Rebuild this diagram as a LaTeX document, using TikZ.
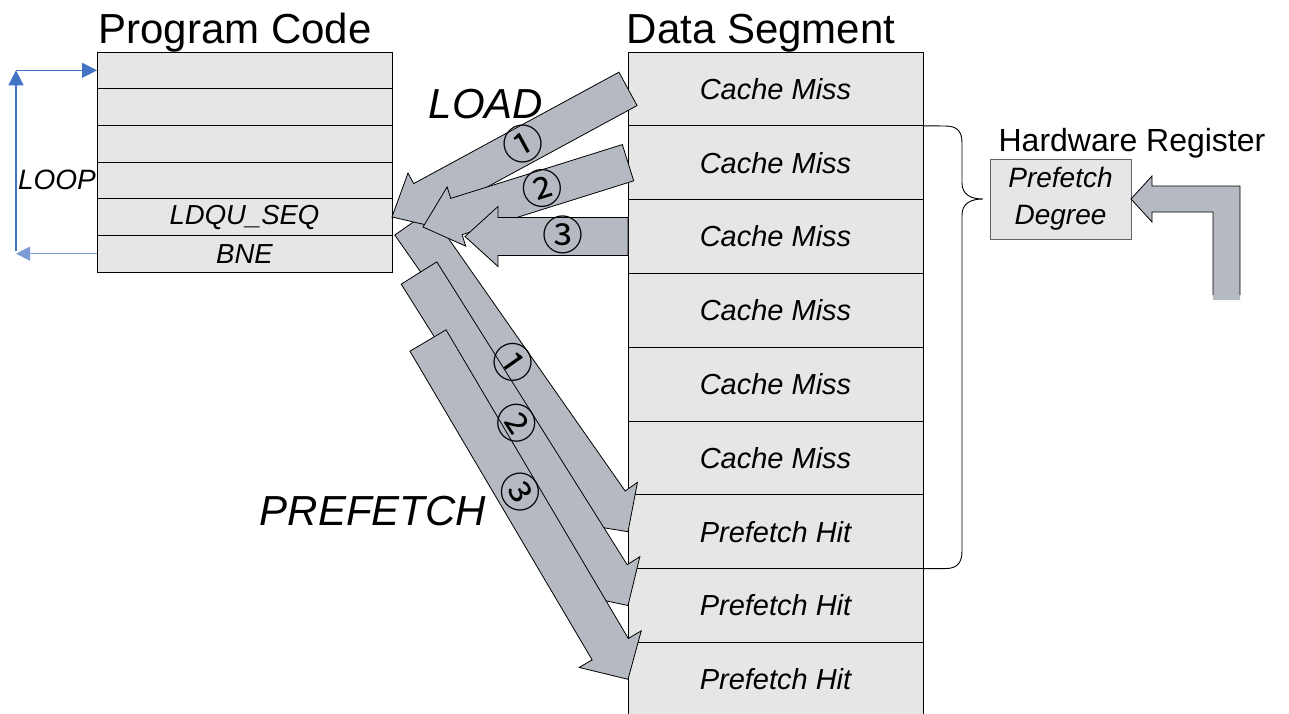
\documentclass[tikz,border=0pt]{standalone}
\usepackage{fontspec}
\setmainfont{Liberation Sans}
\newfontfamily\circfont{Noto Sans CJK JP}
\usetikzlibrary{calc,arrows.meta}

\definecolor{cellgray}{RGB}{230,230,230}
\definecolor{arrowgray}{RGB}{181,185,194}
\definecolor{loopblue}{RGB}{68,114,196}
\definecolor{looplight}{RGB}{125,155,212}
\definecolor{regborder}{RGB}{100,100,100}

% block arrow: tail, tip, half shaft width, half head width, head length
\newcommand\blockarrow[5]{%
  \coordinate (ba) at ($(#2)!#5!(#1)$);
  \path[blockarrow]
    ($(#1)!#3!90:(#2)$) -- ($(ba)!#3!-90:(#1)$) -- ($(ba)!#4!-90:(#1)$)
    -- (#2) -- ($(ba)!#4!90:(#1)$) -- ($(ba)!#3!90:(#1)$)
    -- ($(#1)!#3!-90:(#2)$) -- cycle;
}

\tikzset{
  title/.style={font=\fontsize{42}{50}\selectfont, inner sep=0pt},
  subtitle/.style={font=\fontsize{32}{38}\selectfont, inner sep=0pt},
  bigword/.style={font=\fontsize{42}{50}\selectfont\itshape, inner sep=0pt},
  prow/.style={draw=black, line width=0.9pt, fill=cellgray, minimum width=295pt,
    minimum height=36.67pt, inner sep=0pt, outer sep=0pt,
    font=\fontsize{27.5}{32}\selectfont\itshape},
  drow/.style={draw=black, line width=0.9pt, fill=cellgray, minimum width=295pt,
    minimum height=73.8pt, inner sep=0pt, outer sep=0pt,
    font=\fontsize{29}{34}\selectfont\itshape},
  regbox/.style={draw=regborder, line width=0.9pt, fill=cellgray, minimum width=141pt,
    minimum height=80pt, inner sep=0pt, outer sep=0pt, align=center,
    font=\fontsize{28}{37}\selectfont\itshape},
  blockarrow/.style={fill=arrowgray, draw=black, line width=0.8pt, line join=miter},
  circnum/.style={font=\fontsize{41}{41}\selectfont\circfont, inner sep=0pt},
  loopline/.style={draw=loopblue, line width=1.4pt, -{Triangle[length=15pt,width=15pt]}},
  looplow/.style={draw=looplight, line width=1.1pt, -{Triangle[length=14pt,width=14pt]}},
  loopword/.style={font=\fontsize{28}{32}\selectfont\itshape, inner sep=0pt},
}

\begin{document}
\begin{tikzpicture}[x=1pt, y=-1pt]
\clip (0,0) rectangle (1289,714);
\fill[white] (0,0) rectangle (1289,714);

% headings
\node[title, anchor=base] (pct) at (235,44) {Program Code};
\node[title, anchor=base] (dst) at (761,44) {Data Segment};
\node[subtitle, anchor=base] (hwt) at (1132,152) {Hardware Register};

% program code column
\node[prow] (p1) at (244.5,70.33) {};
\node[prow] (p2) at (244.5,107.0) {};
\node[prow] (p3) at (244.5,143.67) {};
\node[prow] (p4) at (244.5,180.33) {};
\node[prow] (p5) at (244.5,217.0) {LDQU\_SEQ};
\node[prow] (p6) at (244.5,253.67) {BNE};

% data segment column
\node[drow] (d1) at (775.5,88.9) {Cache Miss};
\node[drow] (d2) at (775.5,162.7) {Cache Miss};
\node[drow] (d3) at (775.5,236.5) {Cache Miss};
\node[drow] (d4) at (775.5,310.3) {Cache Miss};
\node[drow] (d5) at (775.5,384.1) {Cache Miss};
\node[drow] (d6) at (775.5,457.9) {Cache Miss};
\node[drow] (d7) at (775.5,531.7) {Prefetch Hit};
\node[drow] (d8) at (775.5,605.5) {Prefetch Hit};
\node[drow] (d9) at (775.5,679.3) {Prefetch Hit};

% hardware register
\node[regbox] (reg) at (1060.5,199) {Prefetch\\Degree};

% brace grouping the prefetched rows
\draw[line width=0.9pt] (d2.north east) -- (945,126)
  .. controls (957,126) and (962,131) .. (962,143) -- (962,183)
  .. controls (962,194) and (970,199) .. (983,199)
  .. controls (970,199) and (962,204) .. (962,215) -- (962,551)
  .. controls (962,563) and (957,568.6) .. (945,568.6) -- (d8.north east);

% loop connectors
\coordinate (lbot) at (16,253.67);
\coordinate (lup) at (16,251);
\coordinate (ltop) at (16,70.33);
\draw[looplow] (p6.west) -- (lbot);
\draw[loopline] (lup) -- (ltop);
\draw[loopline] (ltop) -- (p1.west);
\node[loopword] (loopt) at (57,180) {LOOP};

% prefetch arrows
\coordinate (pf1s) at (412,223);
\coordinate (pf2s) at (419,273);
\coordinate (pf3s) at (428,340.5);
\blockarrow{pf1s}{d7.west}{21pt}{36pt}{35pt}
\blockarrow{pf2s}{d8.west}{21pt}{36pt}{35pt}
\blockarrow{pf3s}{d9.west}{21pt}{36pt}{35pt}

% load arrows
\coordinate (ld2e) at (423,227);
\coordinate (ld3e) at (465,236.5);
\blockarrow{d1.west}{p5.east}{19pt}{31pt}{35pt}
\blockarrow{d2.west}{ld2e}{19pt}{31pt}{35pt}
\blockarrow{d3.west}{ld3e}{19pt}{30pt}{33pt}

% register input arrow
\fill[arrowgray] (1213,300) -- (1213,212) -- (1152,212) -- (1152,222) -- (reg.east)
  -- (1152,176) -- (1152,186) -- (1240,186) -- (1240,300) -- cycle;
\draw[line width=0.8pt, line join=miter] (1213,295) -- (1213,212) -- (1152,212) -- (1152,222)
  -- (reg.east) -- (1152,176) -- (1152,186) -- (1240,186) -- (1240,295);

% step numbers
\node[circnum, rotate=28.6] (n1) at (523,144) {①};
\node[circnum, rotate=17.5] (n2) at (542,188) {②};
\node[circnum] (n3) at (563,235) {③};
\node[circnum, rotate=-55] (m1) at (513,362) {①};
\node[circnum, rotate=-57] (m2) at (517,423) {②};
\node[circnum, rotate=-59] (m3) at (520,492) {③};

% operation labels
\node[bigword, anchor=base] (loadt) at (486,119) {LOAD};
\node[bigword, anchor=base] (preft) at (373,525) {PREFETCH};
\end{tikzpicture}
\end{document}
